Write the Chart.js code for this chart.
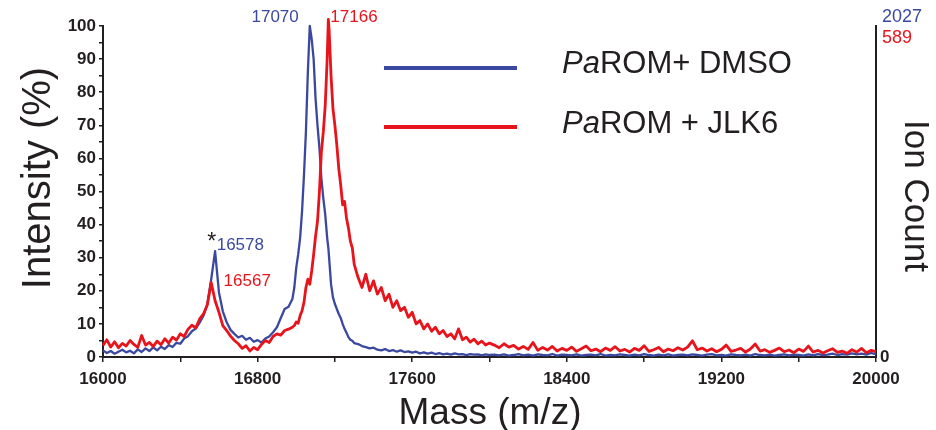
<!DOCTYPE html>
<html>
<head>
<meta charset="utf-8">
<script src="https://cdn.jsdelivr.net/npm/chart.js@4/dist/chart.umd.min.js"></script>
<style>
html,body{margin:0;padding:0;background:#fff;}
canvas{display:block;}
</style>
</head>
<body>
<canvas id="c" width="936" height="430"></canvas>
<script>
// ---- data ----
const mass = [
16000,16020,16040,16060,16080,16100,16120,16140,16160,16180,
16200,16220,16240,16260,16280,16300,16320,16340,16360,16380,
16400,16420,16440,16460,16480,16500,16520,16540,16560,16580,
16600,16620,16640,16660,16680,16700,16720,16740,16760,16780,
16800,16820,16840,16860,16880,16900,16920,16940,16960,16980,
16990,17000,17010,17020,17030,17040,17050,17060,17070,17080,
17090,17100,17110,17120,17130,17140,17150,17160,17166,17170,
17180,17190,17200,17210,17220,17230,17240,17250,17260,17270,
17280,17290,17300,
17320,17340,17360,17380,17400,17420,17440,17460,17480,17500,
17520,17540,17560,17580,17600,17620,17640,17660,17680,17700,
17720,17740,17760,17780,17800,17820,17840,17860,17880,17900,
17920,17940,17960,17980,18000,
18025,18050,18075,18100,18125,18150,18175,18200,18225,18250,
18275,18300,18325,18350,18375,18400,18425,18450,18475,18500,
18525,18550,18575,18600,18625,18650,18675,18700,18725,18750,
18775,18800,18825,18850,18875,18900,18925,18950,18975,19000,
19025,19050,19075,19100,19125,19150,19175,19200,19225,19250,
19275,19300,19325,19350,19375,19400,19425,19450,19475,19500,
19525,19550,19575,19600,19625,19650,19675,19700,19725,19750,
19775,19800,19825,19850,19875,19900,19925,19950,19975,20000
];
const dmso = [
2.0,1.2,1.8,1.0,1.6,2.2,1.4,1.9,1.1,2.3,
1.5,2.6,1.8,2.9,2.0,3.1,2.4,3.6,3.0,4.3,
4.0,5.6,6.3,7.8,8.6,10.4,12.5,16.0,23.5,32.0,
19.5,13.8,10.5,8.2,7.0,5.9,6.4,5.2,5.8,4.6,
5.1,4.4,5.6,6.2,7.5,9.0,11.8,14.5,15.2,17.5,
21,27,31,36,44,55,68,86,100,96,
90,78,70,63,54,48,43,36,33,30,
22,18,16,14.5,13,11.8,10,8.5,7.3,6.0,
5.2,4.9,4.2,
3.9,3.3,3.0,2.6,2.8,2.2,2.0,2.4,1.8,2.1,
1.6,2.0,1.5,1.7,1.3,1.6,1.1,1.4,1.0,1.3,
0.9,1.2,0.8,1.0,0.7,1.1,0.8,0.9,0.6,0.9,
0.7,0.8,0.5,0.8,0.6,
0.7,0.5,0.8,0.4,0.6,0.9,0.5,0.7,0.4,0.8,
0.6,0.5,0.9,0.4,0.7,0.6,0.5,0.8,0.4,0.6,
0.7,0.5,0.9,0.4,0.6,0.5,0.8,0.6,0.4,0.7,
0.5,0.9,0.6,0.4,0.7,0.5,0.8,0.4,0.6,0.7,
0.5,0.8,0.6,0.4,0.7,0.9,0.5,0.6,0.4,0.8,
0.6,0.5,0.7,0.4,0.9,0.6,0.5,0.7,0.4,0.6,
0.8,0.5,0.7,0.6,0.4,0.8,0.5,0.9,0.6,0.7,
1.0,0.6,0.9,0.7,1.1,0.8,1.0,0.7,1.2,0.9
];
const jlk6 = [
3.5,5.2,3.0,4.6,2.8,4.1,3.3,5.0,3.8,2.9,
6.5,3.6,4.4,3.2,4.8,3.7,5.5,4.2,6.0,5.1,
7.0,6.2,8.4,9.6,8.8,11.5,13.0,15.8,22.5,17.0,
13.5,9.5,8.0,6.3,5.0,4.0,2.6,3.4,1.8,2.9,
2.2,3.8,5.0,4.4,6.2,7.0,6.6,8.0,8.4,9.0,
9.5,10.6,10.2,12.5,14.0,16.5,21.0,23.5,22.0,26.0,
31,36.5,41,50,62,68,76,90,102,99,
85,75,70,64,57,52,46,47,42,39,
35,33,28,
24,21,25,20,23,19,21,17,19,15,
17,14,15,12,13.5,10,11,8.5,10,7.8,
9.0,7.0,8.0,6.2,7.0,5.5,8.5,5.2,6.0,4.5,
5.4,4.0,4.8,3.6,4.2,
3.6,2.8,4.0,3.0,3.5,2.4,3.2,2.3,4.4,2.0,
2.9,2.1,3.2,1.8,2.6,2.0,3.0,1.7,2.5,3.3,
1.9,2.4,1.6,2.7,2.0,3.1,1.8,2.3,1.5,2.6,
2.0,3.4,1.7,2.2,2.9,1.6,2.4,1.9,2.8,2.1,
3.0,4.9,2.2,2.7,1.8,2.5,1.6,2.3,3.6,1.7,
2.1,2.6,1.5,2.4,3.9,1.8,2.2,1.4,2.0,2.7,
1.6,2.1,1.3,2.4,1.7,3.3,1.5,2.0,1.2,1.9,
2.5,1.4,1.8,1.1,2.2,1.5,2.6,1.3,2.0,1.6
];
const seriesNames = ['ROM+ DMSO', 'ROM + JLK6'];
const peakMass = [17070, 17166, 16578, 16567];
const peakText = ['17070', '17166', '16578', '16567'];
const ionCounts = ['2027', '589'];
const xTickLabels = [16000, 16800, 17600, 18400, 19200, 20000];

const BLUE = '#3b48a0';
const RED = '#e8141c';
const INK = '#231f20';
const FONT = '"Liberation Sans", Arial, Helvetica, sans-serif';

const toXY = vals => mass.map((m, i) => ({x: m, y: vals[i]}));

const annot = {
  id: 'annot',
  afterDraw(chart) {
    const ctx = chart.ctx;
    const xs = chart.scales.x;
    ctx.save();
    ctx.fillStyle = INK;
    // axis titles
    ctx.font = '40px ' + FONT;
    ctx.textAlign = 'center';
    ctx.textBaseline = 'alphabetic';
    ctx.save(); ctx.translate(50, 178); ctx.rotate(-Math.PI / 2);
    ctx.fillText('Intensity (%)', 0, 0); ctx.restore();
    ctx.font = '37px ' + FONT;
    ctx.fillText('Mass (m/z)', 490, 424);
    ctx.font = '35px ' + FONT;
    ctx.save(); ctx.translate(905, 196); ctx.rotate(Math.PI / 2);
    ctx.fillText('Ion Count', 0, 0); ctx.restore();

    // ion counts (right axis top)
    ctx.font = '18px ' + FONT;
    ctx.textAlign = 'left';
    ctx.fillStyle = BLUE; ctx.fillText(ionCounts[0], 882, 22);
    ctx.fillStyle = RED; ctx.fillText(ionCounts[1], 882, 43);

    // peak labels
    ctx.font = '17px ' + FONT;
    ctx.fillStyle = BLUE; ctx.textAlign = 'right';
    ctx.fillText(peakText[0], xs.getPixelForValue(peakMass[0]) - 11, 22);
    ctx.fillStyle = RED; ctx.textAlign = 'left';
    ctx.fillText(peakText[1], xs.getPixelForValue(peakMass[1]) + 2, 22);
    ctx.fillStyle = BLUE;
    ctx.fillText(peakText[2], xs.getPixelForValue(peakMass[2]) + 2, 250);
    ctx.fillStyle = RED;
    ctx.fillText(peakText[3], xs.getPixelForValue(peakMass[3]) + 11, 286);
    ctx.fillStyle = INK; ctx.textAlign = 'center';
    ctx.font = '23px ' + FONT;
    ctx.fillText('*', xs.getPixelForValue(peakMass[2]) - 3, 249);

    // legend
    const items = [[BLUE, 68, 73], [RED, 127, 133]];
    items.forEach((it, i) => {
      ctx.strokeStyle = it[0]; ctx.lineWidth = 4; ctx.lineCap = 'butt';
      ctx.beginPath(); ctx.moveTo(384, it[1]); ctx.lineTo(517, it[1]); ctx.stroke();
      ctx.fillStyle = INK; ctx.textAlign = 'left';
      ctx.font = 'italic 31px ' + FONT;
      ctx.fillText('Pa', 562, it[2]);
      const w = ctx.measureText('Pa').width;
      ctx.font = '31px ' + FONT;
      ctx.fillText(seriesNames[i], 562 + w, it[2]);
    });
    ctx.restore();
  }
};

new Chart(document.getElementById('c'), {
  type: 'line',
  data: {
    datasets: [
      {label: 'PaROM + JLK6', data: toXY(jlk6), borderColor: RED, borderWidth: 2.8, clip: false},
      {label: 'PaROM+ DMSO', data: toXY(dmso), borderColor: BLUE, borderWidth: 2.3, clip: false}
    ]
  },
  options: {
    responsive: false,
    devicePixelRatio: 1,
    animation: false,
    parsing: false,
    elements: {point: {radius: 0}, line: {tension: 0, borderJoinStyle: 'round', fill: false}},
    layout: {padding: {top: 26, left: 0, right: 0, bottom: 0}},
    plugins: {legend: {display: false}, tooltip: {enabled: false}},
    scales: {
      x: {
        type: 'linear', min: 16000, max: 20000,
        afterFit: s => { s.height = 73; },
        border: {display: true, color: INK, width: 2},
        grid: {display: true, drawOnChartArea: false, drawTicks: true, tickLength: 5, color: INK, lineWidth: 1.5},
        ticks: {
          stepSize: 400, padding: 7, color: INK, maxRotation: 0, autoSkip: false,
          font: {family: FONT, size: 17, weight: 'bold'},
          callback: v => xTickLabels.includes(v) ? String(v) : ''
        }
      },
      y: {
        type: 'linear', position: 'left', min: 0, max: 100,
        afterFit: s => { s.width = 103; },
        border: {display: true, color: INK, width: 2},
        grid: {display: true, drawOnChartArea: false, drawTicks: true, tickLength: 4, color: INK, lineWidth: 1.5},
        ticks: {
          stepSize: 5, padding: 3, color: INK, autoSkip: false,
          font: {family: FONT, size: 17, weight: 'bold'},
          callback: v => (v % 10 === 0) ? String(v) : ''
        }
      },
      y2: {
        type: 'linear', position: 'right', min: 0, max: 100,
        afterFit: s => { s.width = 60; },
        border: {display: true, color: INK, width: 2},
        grid: {display: false, drawOnChartArea: false, drawTicks: false},
        ticks: {
          stepSize: 100, padding: 4, color: INK,
          font: {family: FONT, size: 17, weight: 'bold'},
          callback: v => v === 0 ? '0' : ''
        }
      }
    }
  },
  plugins: [annot]
});
</script>
</body>
</html>
